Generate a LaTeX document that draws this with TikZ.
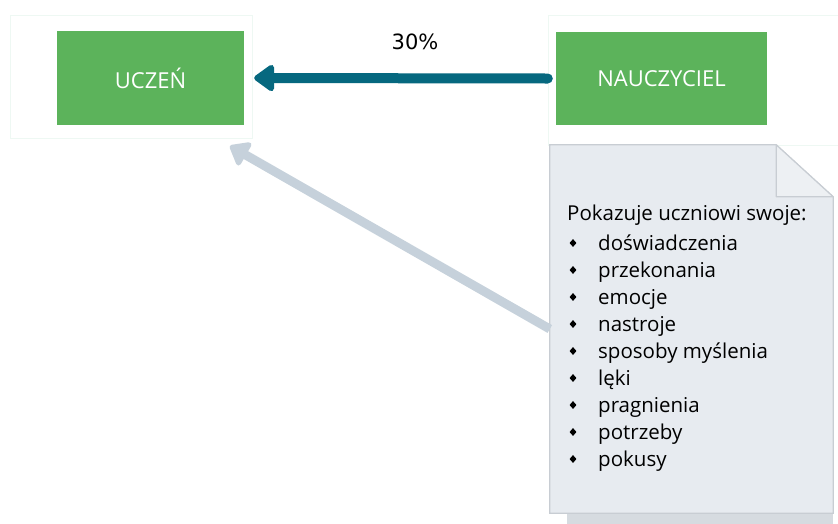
\documentclass[tikz,border=0pt]{standalone}
\usepackage{fontspec}
\setmainfont{Open Sans}
\newfontfamily\pctfont{DejaVu Sans}
\usetikzlibrary{arrows.meta,shapes.geometric,calc}
\definecolor{boxgreen}{HTML}{5CB35B}
\definecolor{arrowteal}{HTML}{06687F}
\definecolor{grayarrow}{HTML}{C6D1DB}
\definecolor{notefill}{HTML}{E7EBF0}
\definecolor{foldfill}{HTML}{EDF0F3}
\definecolor{noteline}{HTML}{C8CDD3}
\definecolor{noteshadow}{HTML}{D6DBE0}
\definecolor{faint}{HTML}{EEF8F3}
\tikzset{
  outerbox/.style={draw=faint, line width=0.8pt, fill=white, inner sep=0},
  greenbox/.style={fill=boxgreen, text=white, inner sep=0, font=\fontsize{22}{26}\selectfont},
  tealarrow/.style={draw=arrowteal, line width=10pt, line cap=round, -{Triangle[length=22pt,width=30pt,round]}},
  grayconn/.style={draw=grayarrow, line width=9pt, -{Triangle[length=20pt,width=30pt,round]}},
  notetext/.style={anchor=base west, inner sep=0, font=\fontsize{20.5}{24}\selectfont},
  bulletmark/.style={diamond, fill=black, inner sep=0, minimum width=7pt, minimum height=8pt},
}
\begin{document}
\begin{tikzpicture}[x=1pt,y=-1pt]
\useasboundingbox (0,0) rectangle (838,523);
\fill[white] (0,0) rectangle (838,523);
% outer frames
\node[outerbox, minimum width=242, minimum height=123] (uo) at (131,76.5) {};
\node[outerbox, minimum width=290, minimum height=130] (no) at (693,80) {};
% green boxes
\node[greenbox, minimum width=187, minimum height=94] (uczen) at (150.5,78) {UCZEŃ};
\node[greenbox, minimum width=211, minimum height=93] (naucz) at (661.5,78.5) {NAUCZYCIEL};
% teal arrow
\draw[tealarrow] ([xshift=-8pt]naucz.west) -- ([xshift=10pt]uczen.east);
\node[font=\pctfont\fontsize{21}{25}\selectfont, inner sep=0] (pct) at (415,42) {30\%};
% note
\node[minimum width=283, minimum height=368, inner sep=0] (note) at (691.5,329) {};
\fill[noteshadow] ($(note.south west)+(17,-200)$) rectangle ($(note.south east)+(0,12)$);
\draw[noteline, fill=notefill, line width=1.2pt]
  (note.north west) -- ($(note.north east)+(-57,0)$) -- ($(note.north east)+(0,52)$)
  -- (note.south east) -- (note.south west) -- cycle;
\draw[noteline, fill=foldfill, line width=1.2pt, line join=round]
  ($(note.north east)+(-57,0)$) -- ($(note.north east)+(-57,52)$) -- ($(note.north east)+(0,52)$) -- cycle;
% gray arrow
\coordinate (gtip) at (230,146);
\draw[grayconn] (note.west) -- (gtip);
% note text
\node[notetext] (head) at (567,220) {Pokazuje uczniowi swoje:};
\foreach \t [count=\i] in {doświadczenia,przekonania,emocje,nastroje,sposoby myślenia,lęki,pragnienia,potrzeby,pokusy}{
  \node[bulletmark] (b\i) at (573,{243+27*(\i-1)}) {};
  \node[notetext] (it\i) at (598,{250+27*(\i-1)}) {\t};
}
\end{tikzpicture}
\end{document}
